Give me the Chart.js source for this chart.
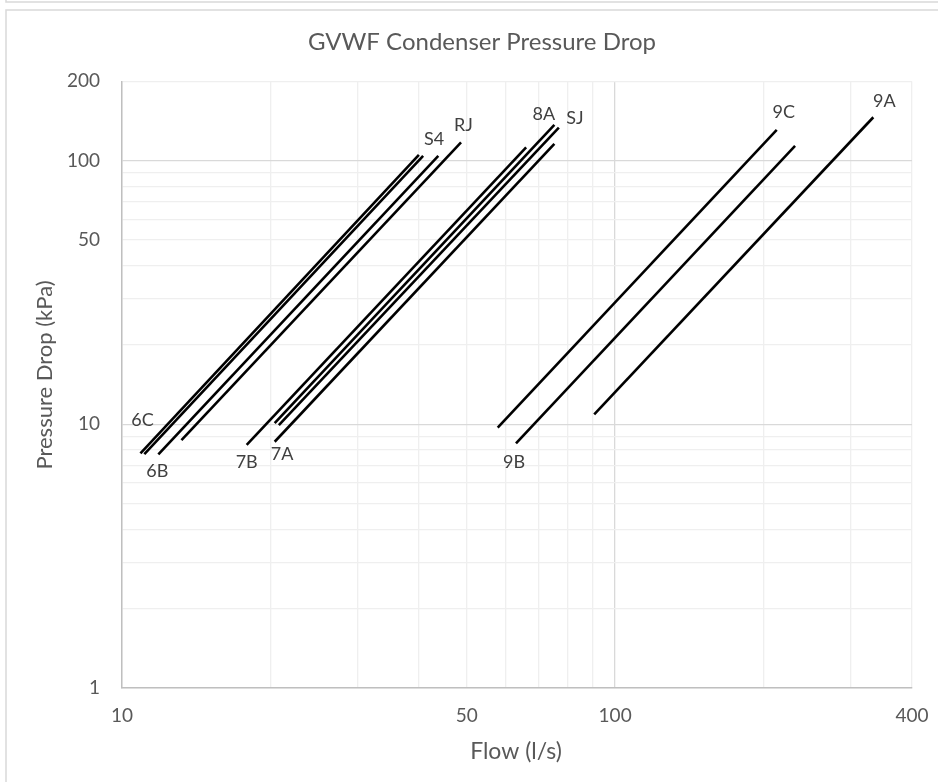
<!DOCTYPE html>
<html>
<head>
<meta charset="utf-8">
<script src="https://cdn.jsdelivr.net/npm/chart.js@4.4.0/dist/chart.umd.min.js"></script>
<style>
  html, body { margin: 0; padding: 0; background: #ffffff; }
  #wrap { position: relative; width: 938px; height: 782px; }
</style>
</head>
<body>
<div id="wrap"><canvas id="c" width="938" height="782"></canvas></div>
<script>
// ---- data ----
const seriesNames = ['6C', 'S4', '6B', 'RJ', '7B', '8A', 'SJ', '7A', '9C', '9B', '9A'];
const flowLow   = [10.9, 11.1, 11.85, 13.2, 17.9, 20.4, 20.8, 20.4, 57.8, 62.95, 90.7];
const flowHigh  = [40.0, 40.8, 43.8, 48.7, 66.0, 75.3, 76.9, 75.3, 212.7, 231.7, 333.9];
const dropLow   = [7.76, 7.71, 7.69, 8.72, 8.35, 10.1, 9.94, 8.59, 9.71, 8.47, 10.9];
const dropHigh  = [105.1, 104.2, 104.2, 117.4, 112.4, 136.6, 133.4, 115.7, 130.8, 113.7, 146.1];
const xTickValues = [10, 20, 30, 40, 50, 60, 70, 80, 90, 100, 200, 300, 400];
const xTickLabels = ['10', '', '', '', '50', '', '', '', '', '100', '', '', '400'];
const yTickValues = [1, 2, 3, 4, 5, 6, 7, 8, 9, 10, 20, 30, 40, 50, 60, 70, 80, 90, 100, 200];
const yTickLabels = ['1', '', '', '', '', '', '', '', '', '10', '', '', '', '50', '', '', '', '', '100', '200'];
const chartTitle = 'GVWF Condenser Pressure Drop';
const xAxisTitle = 'Flow (l/s)';
const yAxisTitle = 'Pressure Drop (kPa)';

// label placement (which end of each line, and pixel offset of the label centre)
const labelPlacement = {
  '6C': { end: 0, dx: 2, dy: -33 },
  'S4': { end: 1, dx: 11, dy: -17 },
  '6B': { end: 0, dx: -1, dy: 17 },
  'RJ': { end: 1, dx: 2.5, dy: -17 },
  '7B': { end: 0, dx: 0, dy: 17.5 },
  '8A': { end: 1, dx: -10.5, dy: -11 },
  'SJ': { end: 1, dx: 16, dy: -9.5 },
  '7A': { end: 0, dx: 7.5, dy: 12.5 },
  '9C': { end: 1, dx: 7, dy: -17.5 },
  '9B': { end: 0, dx: -2, dy: 19 },
  '9A': { end: 1, dx: 11, dy: -16 }
};

const FONT = 'Lato, "Open Sans", "Noto Sans", sans-serif';
const TEXT_GREY = '#595959';

const datasets = seriesNames.map((name, i) => ({
  label: name,
  data: [{ x: flowLow[i], y: dropLow[i] }, { x: flowHigh[i], y: dropHigh[i] }],
  showLine: true,
  borderColor: '#000000',
  backgroundColor: '#000000',
  borderWidth: 2.6,
  pointRadius: 0,
  pointHoverRadius: 0,
  fill: false,
  tension: 0
}));

const framePlugin = {
  id: 'frame',
  beforeDraw(chart) {
    const ctx = chart.ctx;
    ctx.save();
    ctx.fillStyle = '#ffffff';
    ctx.fillRect(0, 0, chart.width, chart.height);
    ctx.strokeStyle = '#d9d9d9';
    ctx.lineWidth = 1.5;
    ctx.strokeRect(6, 10, chart.width + 20, chart.height + 20);
    ctx.beginPath();
    ctx.moveTo(6, -5);
    ctx.lineTo(6, 2);
    ctx.lineTo(chart.width + 10, 2);
    ctx.stroke();
    ctx.restore();
  }
};

const titlesPlugin = {
  id: 'titles',
  afterDraw(chart) {
    const ctx = chart.ctx;
    const area = chart.chartArea;
    ctx.save();
    ctx.fillStyle = TEXT_GREY;
    ctx.textAlign = 'center';
    ctx.textBaseline = 'middle';
    ctx.font = '24px ' + FONT;
    ctx.fillText(chartTitle, 482, 42.5);
    ctx.font = '23px ' + FONT;
    ctx.fillText(xAxisTitle, (area.left + area.right) / 2 - 1, 751.5);
    ctx.translate(45, 375);
    ctx.rotate(-Math.PI / 2);
    ctx.font = '22px ' + FONT;
    ctx.fillText(yAxisTitle, 0, 0);
    ctx.restore();
  }
};

const seriesLabelPlugin = {
  id: 'seriesLabels',
  afterDatasetsDraw(chart) {
    const ctx = chart.ctx;
    ctx.save();
    ctx.font = '18px ' + FONT;
    ctx.fillStyle = '#404040';
    ctx.textAlign = 'center';
    ctx.textBaseline = 'middle';
    chart.data.datasets.forEach((ds, i) => {
      const p = labelPlacement[ds.label];
      if (!p) return;
      const meta = chart.getDatasetMeta(i);
      const pt = meta.data[p.end];
      if (!pt) return;
      ctx.fillText(ds.label, pt.x + p.dx, pt.y + p.dy);
    });
    ctx.restore();
  }
};

function gridColorX(c) {
  const v = c.tick && c.tick.value;
  return v === 100 ? '#d9d9d9' : '#efefef';
}
function gridColorY(c) {
  const v = c.tick && c.tick.value;
  return (v === 10 || v === 100) ? '#d9d9d9' : '#efefef';
}

new Chart(document.getElementById('c'), {
  type: 'scatter',
  data: { datasets },
  plugins: [framePlugin, seriesLabelPlugin, titlesPlugin],
  options: {
    responsive: false,
    animation: false,
    events: [],
    layout: { padding: { left: 0, right: 26, top: 81.3, bottom: 0 } },
    plugins: {
      legend: { display: false },
      tooltip: { enabled: false },
      title: { display: false }
    },
    scales: {
      x: {
        type: 'logarithmic',
        min: 10,
        max: 400,
        afterBuildTicks(scale) {
          scale.ticks = xTickValues.map(v => ({ value: v }));
        },
        afterFit(scale) {
          scale.height = 94;
          scale.paddingLeft = 0;
          scale.paddingRight = 0;
        },
        ticks: {
          autoSkip: false,
          maxRotation: 0,
          minRotation: 0,
          padding: 16.6,
          color: TEXT_GREY,
          font: { family: FONT, size: 19 },
          callback(value) {
            const k = xTickValues.indexOf(value);
            return k >= 0 ? xTickLabels[k] : '';
          }
        },
        grid: { color: gridColorX, lineWidth: 1.3, drawTicks: false },
        border: { color: '#bfbfbf', width: 1.5 },
        title: { display: false }
      },
      y: {
        type: 'logarithmic',
        min: 1,
        max: 200,
        afterBuildTicks(scale) {
          scale.ticks = yTickValues.map(v => ({ value: v }));
        },
        afterFit(scale) {
          scale.width = 122;
          scale.paddingTop = 0;
          scale.paddingBottom = 0;
        },
        ticks: {
          autoSkip: false,
          padding: 22,
          color: TEXT_GREY,
          font: { family: FONT, size: 19 },
          callback(value) {
            const k = yTickValues.indexOf(value);
            return k >= 0 ? yTickLabels[k] : '';
          }
        },
        grid: { color: gridColorY, lineWidth: 1.3, drawTicks: false },
        border: { color: '#bfbfbf', width: 1.5 },
        title: { display: false }
      }
    }
  }
});
</script>
</body>
</html>
